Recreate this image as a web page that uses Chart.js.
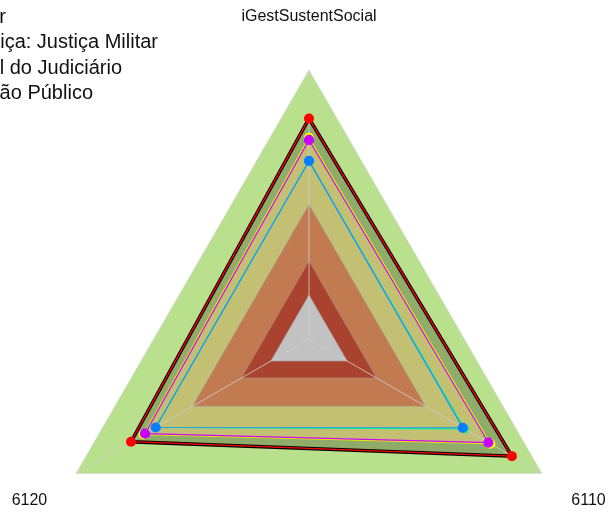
<!DOCTYPE html>
<html><head><meta charset="utf-8">
<script src="https://cdn.jsdelivr.net/npm/chart.js@4.4.1/dist/chart.umd.min.js"></script>
<style>html,body{margin:0;padding:0;background:#fff;overflow:hidden}</style>
</head><body>
<canvas id="c" width="609" height="514"></canvas>
<script>
// axes (clockwise from top)
const categories = ['iGestSustentSocial', '6110', '6120'];

// series values [iGestSustentSocial, 6110, 6120]
const serieBlack   = [0.820, 0.871, 0.764];
const serieRed     = [0.820, 0.871, 0.764];
const serieYellow  = [0.748, 0.778, 0.710];
const serieMagenta = [0.740, 0.770, 0.704];
const serieGreen   = [0.662, 0.668, 0.658];
const serieBlue    = [0.662, 0.660, 0.658];

// background bands (outer limits)
const bandLevels = [1.0, 0.5, 0.29, 0.164];
const bandColors = ['#B9E08D', '#C27A51', '#A9432F', '#C2C2C2'];

// legend text (partly outside the picture)
const legendLabels = [
  'Superior Tribunal Militar',
  'Segmento de Justiça: Justiça Militar',
  'Média Geral do Judiciário',
  'Média da Administração Público'
];

const scaleMax = 1.0;
const labelDistance = 1.2;

const levelData = v => categories.map(() => v);

const datasets = [
  {label:'band0', data: levelData(bandLevels[0]), backgroundColor: bandColors[0], borderColor:'rgba(215,215,215,0.7)', borderWidth:1, fill:'origin', pointRadius:0, order:100},
  {label:'areaDark', data: serieBlack, backgroundColor:'#8FAC6B', borderWidth:0, borderColor:'rgba(0,0,0,0)', fill:'origin', pointRadius:0, order:90},
  {label:'areaKhaki', data: serieYellow, backgroundColor:'#C3C074', borderWidth:0, borderColor:'rgba(0,0,0,0)', fill:'origin', pointRadius:0, order:80},
  {label:'band1', data: levelData(bandLevels[1]), backgroundColor: bandColors[1], borderColor:'rgba(160,160,160,0.6)', borderWidth:1, fill:'origin', pointRadius:0, order:70},
  {label:'band2', data: levelData(bandLevels[2]), backgroundColor: bandColors[2], borderColor:'rgba(170,140,130,0.6)', borderWidth:1, fill:'origin', pointRadius:0, order:60},
  {label:'band3', data: levelData(bandLevels[3]), backgroundColor: bandColors[3], borderColor:'rgba(170,150,150,0.6)', borderWidth:1, fill:'origin', pointRadius:0, order:50, spokes:true},
  {label:legendLabels[0], data: serieBlack, borderColor:'#000000', borderWidth:3.5, fill:false, pointRadius:0, order:40},
  {label:legendLabels[0], data: serieRed, borderColor:'#FF0000', borderWidth:1.3, fill:false, pointRadius:5, pointBackgroundColor:'#FF0000', pointBorderColor:'#FF0000', pointBorderWidth:0, order:35},
  {label:legendLabels[3], data: serieGreen, borderColor:'#00FF80', borderWidth:1.2, fill:false, pointRadius:4, pointBackgroundColor:'#00FF80', pointBorderColor:'#00FF80', order:30},
  {label:legendLabels[2], data: serieBlue, borderColor:'#1E90FF', borderWidth:1.2, fill:false, pointRadius:4.5, pointBackgroundColor:'#0A7CFF', pointBorderColor:'#0A7CFF', order:25},
  {label:legendLabels[1], data: serieYellow, borderColor:'#E8F000', borderWidth:1.2, fill:false, pointRadius:4.5, pointBackgroundColor:'#FFFF00', pointBorderColor:'#FFFF00', order:20},
  {label:legendLabels[1], data: serieMagenta, borderColor:'#D000FF', borderWidth:1.2, fill:false, pointRadius:4.5, pointBackgroundColor:'#C800FF', pointBorderColor:'#C800FF', order:15}
];

const spokesPlugin = {
  id:'spokes',
  afterDatasetDraw(chart, args){
    const ds = chart.data.datasets[args.index];
    if (!ds.spokes) return;
    const s = chart.scales.r, ctx = chart.ctx;
    ctx.save();
    ctx.strokeStyle = 'rgba(205,205,205,0.85)';
    ctx.lineWidth = 1;
    for (let i = 0; i < categories.length; i++) {
      const p = s.getPointPositionForValue(i, scaleMax);
      ctx.beginPath(); ctx.moveTo(s.xCenter, s.yCenter); ctx.lineTo(p.x, p.y); ctx.stroke();
    }
    ctx.restore();
  }
};

const labelsPlugin = {
  id:'axisLabels',
  afterDraw(chart){
    const s = chart.scales.r, ctx = chart.ctx;
    ctx.save();
    ctx.font = '16px "Liberation Sans", Arial, sans-serif';
    ctx.fillStyle = '#111';
    ctx.textAlign = 'center'; ctx.textBaseline = 'middle';
    categories.forEach((c, i) => {
      const p = s.getPointPositionForValue(i, scaleMax * labelDistance);
      ctx.fillText(c, p.x, p.y);
    });
    // legend (only the right ends of the lines are inside the picture)
    ctx.font = '20px "Liberation Sans", Arial, sans-serif';
    ctx.textAlign = 'left'; ctx.textBaseline = 'alphabetic';
    const ends = [6, 158, 122, 93];
    legendLabels.forEach((t, i) => {
      const w = ctx.measureText(t).width;
      ctx.fillText(t, ends[i] - w, 22.5 + i * 25.5);
    });
    ctx.restore();
  }
};

new Chart(document.getElementById('c'), {
  type:'radar',
  data:{ labels: categories, datasets },
  options:{
    responsive:false, animation:false, devicePixelRatio:1,
    elements:{ line:{ tension:0 } },
    plugins:{ legend:{display:false}, tooltip:{enabled:false} },
    scales:{
      r:{
        min:0, max:scaleMax,
        ticks:{display:false},
        grid:{display:false},
        angleLines:{display:false},
        pointLabels:{display:false},
        afterFit(scale){ scale.xCenter = 309; scale.yCenter = 339; scale.drawingArea = 269; }
      }
    }
  },
  plugins:[spokesPlugin, labelsPlugin]
});
</script>
</body></html>
